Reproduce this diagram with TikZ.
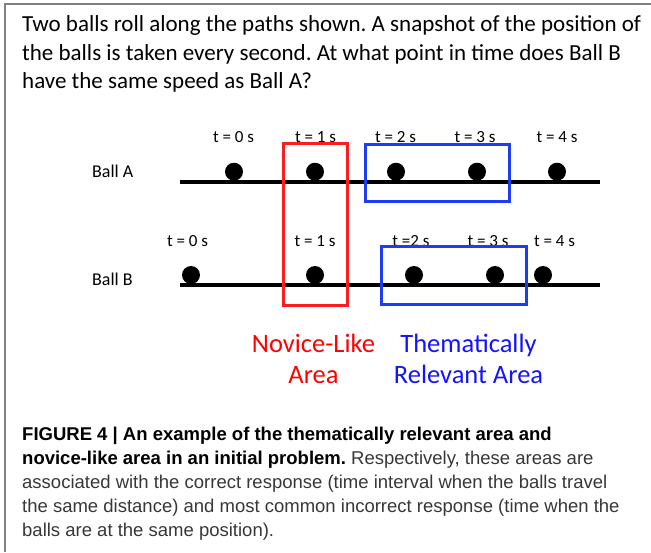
\documentclass[tikz,border=0pt]{standalone}
\usepackage{fontspec}
\setmainfont{Carlito}
\newfontfamily\capfont{Liberation Sans}
\definecolor{boxred}{RGB}{250,30,30}
\definecolor{boxblue}{RGB}{30,60,240}
\definecolor{lblred}{RGB}{255,0,0}
\definecolor{lblblue}{RGB}{20,20,250}
\definecolor{frame}{RGB}{130,130,130}
\definecolor{captext}{RGB}{55,55,55}
\frenchspacing
\begin{document}
\begin{tikzpicture}[x=1pt,y=-1pt,
  ball/.style={circle,fill=black,inner sep=0pt,minimum size=18pt},
  tlab/.style={anchor=base,inner sep=0pt,font=\fontsize{17}{20}\selectfont},
  blab/.style={anchor=base west,inner sep=0pt,font=\fontsize{18}{22}\selectfont},
  track/.style={line width=4pt},
  redbox/.style={draw=boxred,line width=3pt},
  bluebox/.style={draw=boxblue,line width=3pt},
  qline/.style={anchor=base west,inner sep=0pt,font=\fontsize{23}{28}\selectfont},
  cline/.style={anchor=base west,inner sep=0pt,font=\capfont\fontsize{18.5}{22}\selectfont},
  area/.style={anchor=base,inner sep=0pt,font=\fontsize{26.5}{31}\selectfont}]
\useasboundingbox (0,0) rectangle (651,552);
% frame
\coordinate (fbl) at (5,552);
\coordinate (ftl) at (5,4);
\coordinate (ftr) at (651,4);
\draw[frame,line width=1.5pt] (fbl) -- (ftl) -- (ftr);
% question
\node[qline] (q1) at (22,31) {Two balls roll along the paths shown. A snapshot of the position of};
\node[qline] (q2) at (22,60) {the balls is taken every second. At what point in time does Ball B};
\node[qline] (q3) at (22,88) {have the same speed as Ball A?};
% Ball A
\node[blab] (la) at (92,177) {Ball A};
\coordinate (a0) at (180,181.7);
\coordinate (a1) at (600,181.7);
\draw[track] (a0) -- (a1);
\node[ball] (ba0) at (234,171.7) {};
\node[ball] (ba1) at (315,171.7) {};
\node[ball] (ba2) at (396,171.7) {};
\node[ball] (ba3) at (477,171.7) {};
\node[ball] (ba4) at (557,171.7) {};
\node[tlab] (ta0) at (233.5,142) {t = 0 s};
\node[tlab] (ta1) at (315.5,142) {t = 1 s};
\node[tlab] (ta2) at (395.5,142) {t = 2 s};
\node[tlab] (ta3) at (475,142) {t = 3 s};
\node[tlab] (ta4) at (557,142) {t = 4 s};
% Ball B
\node[blab] (lb) at (92,285) {Ball B};
\coordinate (b0) at (180,285);
\coordinate (b1) at (600,285);
\draw[track] (b0) -- (b1);
\node[ball] (bb0) at (191,275) {};
\node[ball] (bb1) at (315,275) {};
\node[ball] (bb2) at (414,275) {};
\node[ball] (bb3) at (495,275) {};
\node[ball] (bb4) at (543,275) {};
\node[tlab] (tb0) at (187.5,246) {t = 0 s};
\node[tlab] (tb1) at (315,246) {t = 1 s};
\node[tlab] (tb2) at (411,246) {t =2 s};
\node[tlab] (tb3) at (488,246) {t = 3 s};
\node[tlab] (tb4) at (554.5,246) {t = 4 s};
% boxes
\draw[redbox] (283.7,143) rectangle (347,305);
\draw[bluebox] (365,144) rectangle (509,201);
\draw[bluebox] (381.7,246.7) rectangle (526,304);
% area labels
\node[area,text=lblred] (nl1) at (313.5,352.3) {Novice-Like};
\node[area,text=lblred] (nl2) at (313.5,383.3) {Area};
\node[area,text=lblblue] (tr1) at (468.5,352.3) {Thematically};
\node[area,text=lblblue] (tr2) at (468.5,383.3) {Relevant Area};
% caption
\node[cline] (c1) at (22,440) {\bfseries FIGURE 4 | An example of the thematically relevant area and};
\node[cline] (c2) at (22,464) {{\bfseries novice-like area in an initial problem.} {\color{captext}Respectively, these areas are}};
\node[cline,text=captext] (c3) at (22,488) {associated with the correct response (time interval when the balls travel};
\node[cline,text=captext] (c4) at (22,512) {the same distance) and most common incorrect response (time when the};
\node[cline,text=captext] (c5) at (22,536) {balls are at the same position).};
\end{tikzpicture}
\end{document}
